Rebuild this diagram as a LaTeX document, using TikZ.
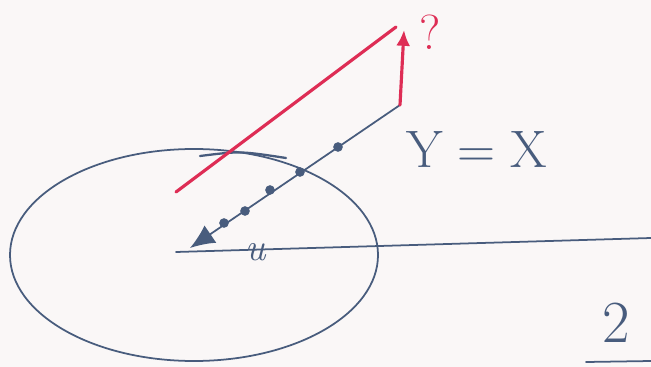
\documentclass[tikz,border=0pt]{standalone}
\usepackage{xcolor}
\usepackage{tikz}
\usetikzlibrary{arrows.meta,positioning,calc}
\definecolor{ink}{RGB}{72,92,125}
\definecolor{redink}{RGB}{222,45,85}
\definecolor{paper}{RGB}{250,247,247}

\begin{document}
\begin{tikzpicture}[x=0.02cm,y=-0.02cm,line width=1pt,
  inkline/.style={draw=ink,line cap=round},
  redline/.style={draw=redink,line width=1.8pt,line cap=round},
  dotmark/.style={circle,fill=ink,inner sep=0pt,minimum size=5.5pt}]
  \fill[paper] (0,0) rectangle (651,367);
  \useasboundingbox (0,0) rectangle (651,367);
  % points
  \coordinate (O) at (190,248);
  \coordinate (P) at (400,105);
  \coordinate (Tip) at (404,30);
  \coordinate (Rs) at (176,192);
  \coordinate (Re) at (396,27);
  \coordinate (Hs) at (176,252);
  \coordinate (He) at (651,238);
  % circle
  \draw[inkline] (194,255) ellipse (184 and 106);
  \draw[inkline,line width=1.3pt] (200,156) .. controls (240,151) .. (286,158);
  % lines
  \draw[inkline] (Hs) -- (He);
  \draw[inkline,-{Latex[length=14pt,width=12pt]}] (P) -- (O);
  \foreach \px/\py [count=\i] in {338/147,300/172,270/190,245/211,224/223}
    \node[dotmark] (d\i) at (\px,\py) {};
  % red
  \draw[redline] (Rs) -- (Re);
  \draw[redline,-{Latex[length=9pt,width=8pt]}] (P) -- (Tip);
  % labels
  \node[text=ink,font=\fontsize{30}{34}\selectfont,anchor=west] (yx) at (400,150) {Y\;=\;X};
  \node[text=ink,font=\fontsize{22}{26}\selectfont\itshape] (u) at (256,252) {u};
  \node[text=redink,font=\fontsize{28}{32}\selectfont] (q) at (430,32) {?};
  \node[text=ink,font=\fontsize{34}{38}\selectfont] (two) at (616,323) {2};
  \draw[inkline] (586,362) -- (651,361);
\end{tikzpicture}
\end{document}
